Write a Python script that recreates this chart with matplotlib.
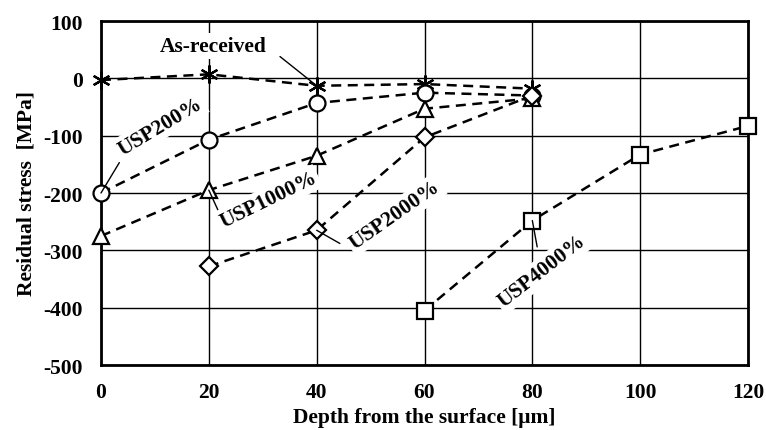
import matplotlib.pyplot as plt
import numpy as np

plt.rcParams['font.family'] = ['Liberation Serif', 'DejaVu Serif']
plt.rcParams['font.weight'] = 'bold'
plt.rcParams['axes.unicode_minus'] = False

# depth [um] and residual stress [MPa]
depth_asr = [0, 20, 40, 60, 80]
stress_asr = [-3, 7, -13, -10, -18]

depth_200 = [0, 20, 40, 60, 80]
stress_200 = [-200, -107, -43, -25, -30]

depth_1000 = [0, 20, 40, 60, 80]
stress_1000 = [-275, -195, -135, -53, -35]

depth_2000 = [20, 40, 60, 80]
stress_2000 = [-328, -265, -103, -30]

depth_4000 = [60, 80, 100, 120]
stress_4000 = [-405, -248, -133, -83]

xticks = [0, 20, 40, 60, 80, 100, 120]
yticks = [-500, -400, -300, -200, -100, 0, 100]

fig = plt.figure(figsize=(7.66, 4.31), dpi=100)
ax = fig.add_axes([101 / 766, 1 - 366 / 431, 647 / 766, 344 / 431])

dash = (0, (4, 2.6))
common = dict(color='black', lw=1.8, linestyle=dash, markersize=11.5,
              markerfacecolor='white', markeredgecolor='black',
              markeredgewidth=1.6, clip_on=False, zorder=3)
ax.plot(depth_asr, stress_asr, marker=(6, 2, 0), **{**common, 'markersize': 13})
ax.plot(depth_200, stress_200, marker='o', **common)
ax.plot(depth_1000, stress_1000, marker='^', **common)
ax.plot(depth_2000, stress_2000, marker='D', **{**common, 'markersize': 9.5})
ax.plot(depth_4000, stress_4000, marker='s', **{**common, 'markersize': 11})

ax.set_xlim(0, 120)
ax.set_ylim(-500, 100)
ax.set_xticks(xticks)
ax.set_yticks(yticks)
ax.tick_params(labelsize=15.5, length=0)
ax.tick_params(axis='x', pad=12.5)
ax.tick_params(axis='y', pad=13)
ax.grid(True, color='black', lw=1.0, zorder=0)
ax.set_axisbelow(True)
for s in ax.spines.values():
    s.set_linewidth(2.0)

ax.set_xlabel('Depth from the surface [\u03bcm]', fontsize=15.5, fontweight='bold', labelpad=3)
ax.set_ylabel('Residual stress  [MPa]', fontsize=15.5, fontweight='bold', labelpad=5)

box = dict(fc='white', ec='none', pad=2)
tkw = dict(fontsize=15.5, fontweight='bold', ha='center', va='center', bbox=box, zorder=4)
line = dict(arrowstyle='-', color='black', lw=1.0, shrinkA=0, shrinkB=0)

ax.text(20.8, 56, 'As-received', **tkw)
ax.annotate('', xy=(40, -13), xytext=(33.2, 38), arrowprops=line)
ax.text(11, -84, 'USP200%', rotation=31, **tkw)
ax.annotate('', xy=(0, -200), xytext=(3.4, -147), arrowprops=line)
ax.text(31, -212, 'USP1000%', rotation=26, **tkw)
ax.annotate('', xy=(20, -195), xytext=(21.8, -232), arrowprops=line)
ax.text(54.5, -238, 'USP2000%', rotation=35, **tkw)
ax.annotate('', xy=(40, -265), xytext=(44.3, -288), arrowprops=line)
ax.text(81.8, -336, 'USP4000%', rotation=38, **tkw)
ax.annotate('', xy=(80, -248), xytext=(80.9, -294), arrowprops=line)

fig.savefig('out.png', dpi=100)
